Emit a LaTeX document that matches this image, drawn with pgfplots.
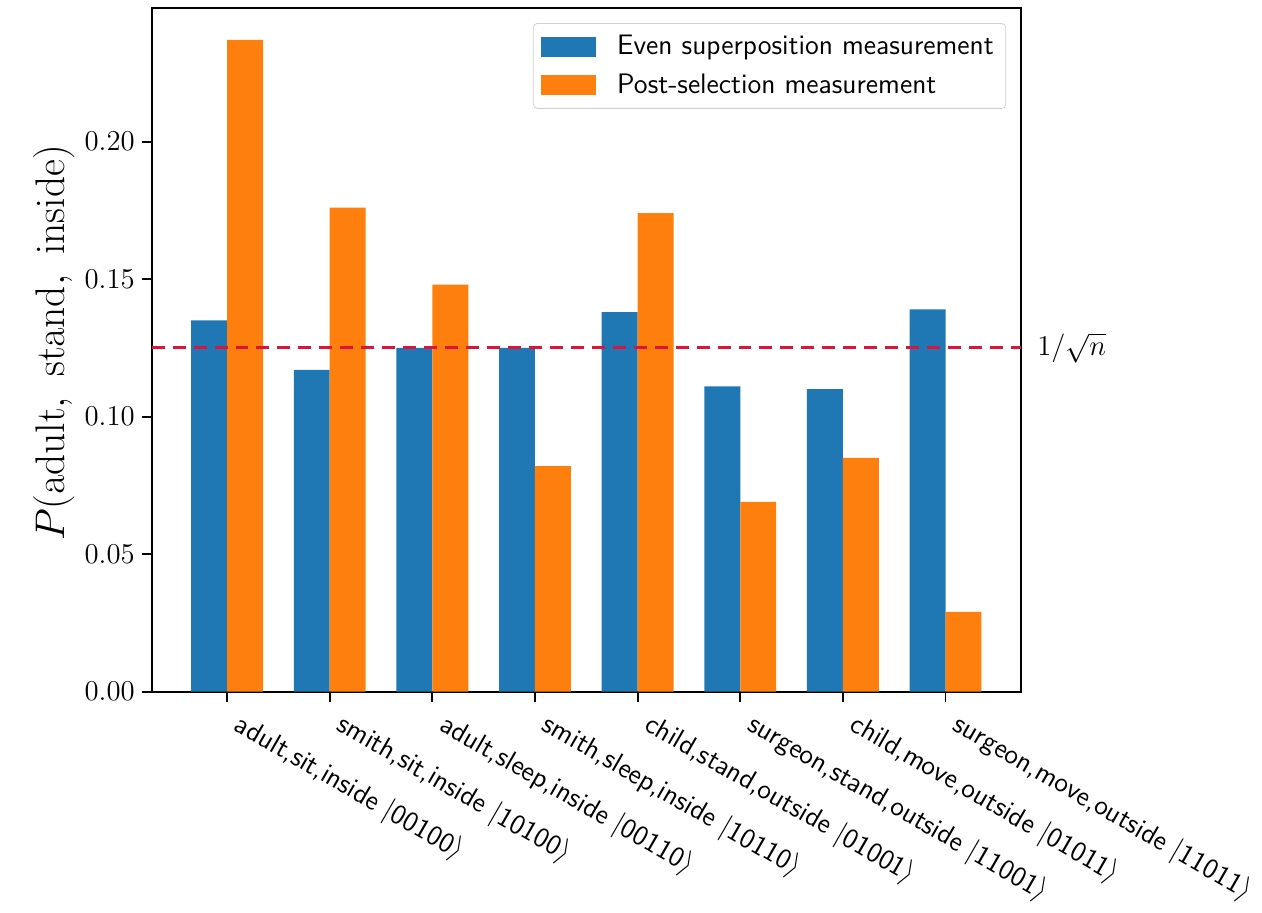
\documentclass[border=0pt]{standalone}
\usepackage{pgfplots}
\pgfplotsset{compat=1.18}
\definecolor{mplblue}{HTML}{1F77B4}
\definecolor{mplorange}{HTML}{FF7F0E}
\definecolor{crimson}{HTML}{DC143C}
\begin{document}
\begin{tikzpicture}
\begin{axis}[
  scale only axis, width=435.5pt, height=342.5pt,
  clip=false,
  xmin=-0.735, xmax=7.735, ymin=0, ymax=0.2486,
  ybar=0pt, bar width=0.35,
  axis line style={line width=0.9pt},
  tick align=outside, xtick pos=bottom, ytick pos=left,
  major tick length=5pt, tick style={black, line width=0.9pt},
  xtick={0,1,2,3,4,5,6,7},
  xticklabels={
    {\textsf{adult,sit,inside} $|$\textsf{00100}$\rangle$},
    {\textsf{smith,sit,inside} $|$\textsf{10100}$\rangle$},
    {\textsf{adult,sleep,inside} $|$\textsf{00110}$\rangle$},
    {\textsf{smith,sleep,inside} $|$\textsf{10110}$\rangle$},
    {\textsf{child,stand,outside} $|$\textsf{01001}$\rangle$},
    {\textsf{surgeon,stand,outside} $|$\textsf{11001}$\rangle$},
    {\textsf{child,move,outside} $|$\textsf{01011}$\rangle$},
    {\textsf{surgeon,move,outside} $|$\textsf{11011}$\rangle$}},
  xticklabel style={xshift=7.5pt, yshift=-1.7pt, rotate=-30, anchor=north west, font=\fontsize{14}{16}\selectfont, inner sep=2pt},
  ytick={0,0.05,0.10,0.15,0.20},
  yticklabel style={font=\fontsize{14}{16}\selectfont, /pgf/number format/fixed, /pgf/number format/fixed zerofill, /pgf/number format/precision=2},
  scaled y ticks=false,
  ylabel={$P(\mathrm{adult,\ stand,\ inside})$},
  ylabel style={at={(rel axis cs:-0.1125,0.51)}, anchor=center, font=\fontsize{22}{26}\selectfont},
  legend style={at={(0.983,0.978)}, anchor=north east, draw=black!18, rounded corners=2pt,
    font=\sffamily\fontsize{14.1}{17}\selectfont, inner xsep=4pt, inner ysep=4pt, row sep=4pt,
    legend cell align=left},
  legend image code/.code={\path[draw=none, fill=none] (0pt,0pt) rectangle (36pt,0.1pt); \fill[#1, draw=none, sharp corners] (0pt,-5pt) rectangle (27.5pt,5pt);},
]
\addplot[fill=mplblue, draw=none] coordinates {(0,0.135) (1,0.117) (2,0.125) (3,0.125) (4,0.138) (5,0.111) (6,0.110) (7,0.139)};
\addlegendentry{Even superposition measurement}
\addplot[fill=mplorange, draw=none] coordinates {(0,0.237) (1,0.176) (2,0.148) (3,0.082) (4,0.174) (5,0.069) (6,0.085) (7,0.029)};
\addlegendentry{Post-selection measurement}
\addplot[sharp plot, crimson, line width=1.4pt, dash pattern=on 6.5pt off 4pt, forget plot] coordinates {(-0.735,0.125) (7.735,0.125)};
\node[anchor=west, font=\fontsize{14}{16}\selectfont, inner sep=0pt, xshift=8pt] at (axis cs:7.735,0.125) {$1/\sqrt{n}$};
\path (rel axis cs:-0.1745,-0.3182) rectangle (rel axis cs:1.2744,1.0117);
\end{axis}
\end{tikzpicture}
\end{document}
